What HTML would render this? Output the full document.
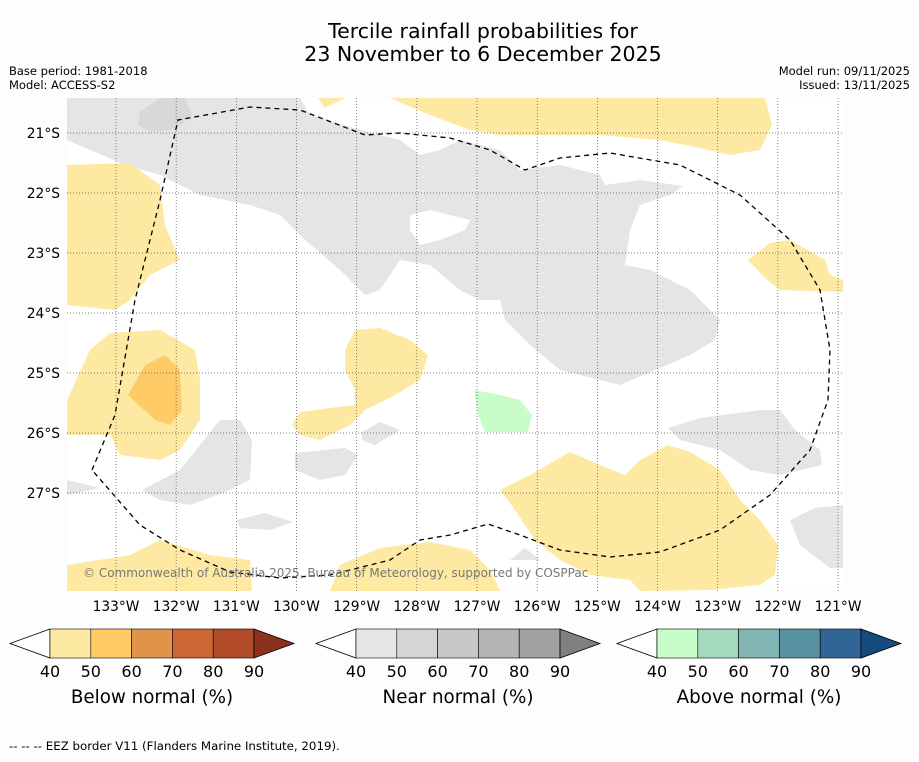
<!DOCTYPE html>
<html><head><meta charset="utf-8">
<style>
body{margin:0;background:#fff;font-family:"DejaVu Sans",sans-serif;}
svg text{font-family:"DejaVu Sans",sans-serif;}
</style></head>
<body>
<svg id="chart" width="919" height="758" viewBox="0 0 919 758" xmlns="http://www.w3.org/2000/svg">
<rect width="919" height="758" fill="#fdfdfd"/>
<text x="483" y="38" font-size="20.5" text-anchor="middle">Tercile rainfall probabilities for</text>
<text x="483" y="61" font-size="20.5" text-anchor="middle">23 November to 6 December 2025</text>
<text x="9" y="75" font-size="11.5">Base period: 1981-2018</text>
<text x="9" y="89" font-size="11.5">Model: ACCESS-S2</text>
<text x="910" y="75" font-size="11.5" text-anchor="end">Model run: 09/11/2025</text>
<text x="910" y="89" font-size="11.5" text-anchor="end">Issued: 13/11/2025</text>
<defs><clipPath id="mapclip"><rect x="67" y="98" width="776" height="493"/></clipPath></defs>
<g id="map" clip-path="url(#mapclip)">
<rect x="67" y="98" width="776" height="493" fill="#ffffff"/>
<g id="near" fill="#e5e5e5">
<polygon points="67,98 300,98 310,115 360,130 400,140 420,155 440,150 460,140 500,150 520,170 560,165 600,175 605,185 640,180 683,186 670,195 640,205 630,230 625,265 650,270 690,290 720,320 715,340 690,355 620,385 560,370 530,345 505,320 500,300 480,300 460,290 430,265 400,260 380,290 365,295 340,270 305,240 280,215 250,205 200,195 160,175 125,165 67,140"/>
<polygon points="668,428 700,418 760,410 780,410 795,430 820,450 822,465 780,475 750,470 720,450 680,440"/>
<polygon points="790,520 815,508 843,505 843,568 830,568 800,545"/>
<polygon points="142,490 180,470 200,445 220,420 240,420 252,440 250,480 225,492 190,505 160,500"/>
<polygon points="237,520 265,513 293,522 270,530 240,528"/>
<polygon points="295,453 345,448 358,455 345,475 320,480 295,470"/>
<polygon points="362,432 380,422 400,430 375,445 362,440"/>
<polygon points="67,480 100,488 67,495"/>
<polygon points="510,560 525,548 540,560"/>
<polygon points="568,355 585,352 575,360"/>
<polygon fill="#d8d8d8" points="140,112 160,98 185,98 192,115 175,130 150,132 138,125"/>
</g>
<polygon fill="#ffffff" points="410,215 430,210 470,220 465,230 440,240 420,245 410,230"/>
<g fill="#fee9a2">
<polygon points="390,98 765,98 772,125 760,150 730,155 700,148 660,140 600,135 500,135 470,130 430,115"/>
<polygon points="318,98 345,98 325,108"/>
<polygon points="67,165 130,163 160,185 165,225 180,260 150,275 130,300 115,310 67,305"/>
<polygon points="67,400 90,350 110,333 160,330 195,350 200,380 200,420 180,450 160,460 120,455 110,435 67,435"/>
<polygon points="345,350 355,330 380,328 410,340 428,355 420,380 395,395 365,410 350,425 320,440 300,435 292,425 300,412 330,408 355,405 355,390 345,370"/>
<polygon points="748,260 770,243 790,240 825,260 830,275 843,280 843,292 780,290 765,278"/>
<polygon points="500,490 530,475 570,452 600,465 625,475 640,460 668,445 690,452 720,470 740,500 760,520 778,545 775,575 760,585 710,590 640,591 630,580 590,575 560,560 535,540 515,510"/>
<polygon points="67,565 130,555 160,540 210,555 250,560 252,591 67,591"/>
<polygon points="340,565 380,548 430,542 470,550 490,570 500,591 330,591"/>
</g>
<polygon fill="#fecb67" points="128,395 145,365 165,355 180,370 182,410 170,425 155,420"/>
<polygon fill="#c8fcc8" points="474,390 500,395 520,400 532,415 528,432 485,432 478,415"/>
<g id="grid"></g>
<polyline fill="none" stroke="#000" stroke-width="1.3" stroke-dasharray="5,4" points="92,470 115,415 135,300 160,200 178,120 250,107 300,110 365,135 400,133 450,138 490,150 525,170 560,158 610,153 680,165 740,195 790,240 820,290 830,350 828,400 810,450 770,495 720,530 660,552 610,557 560,550 520,535 488,524 450,535 420,540 390,560 330,575 280,578 230,572 180,550 140,525 92,470"/>
<text x="83" y="577" font-size="12" fill="#777">© Commonwealth of Australia 2025, Bureau of Meteorology, supported by COSPPac</text>
</g>
<g id="axes"></g>
<g id="bars"></g>
<text x="9" y="750" font-size="11.8">--  --  -- EEZ border V11 (Flanders Marine Institute, 2019).</text>
</svg>
<script>
const lonTicks=[-133,-132,-131,-130,-129,-128,-127,-126,-125,-124,-123,-122,-121];
const latTicks=[-21,-22,-23,-24,-25,-26,-27];
const levelLabels=[40,50,60,70,80,90];
const belowColors=["#fee9a2","#fecb67","#e09448","#cc6633","#b04a28","#8c3020"];
const nearColors=["#e5e5e5","#d5d5d5","#c8c8c8","#b5b5b5","#a2a2a2","#808080"];
const aboveColors=["#c8fcc8","#a3d9bf","#80b5b4","#58919f","#316596","#174a7e"];
const NS="http://www.w3.org/2000/svg";
function xLon(l){return 116+(l+133)*60.17;}
function yLat(l){return 133+(-21-l)*60;}
function mk(tag,attrs,parent){const e=document.createElementNS(NS,tag);for(const k in attrs)e.setAttribute(k,attrs[k]);parent.appendChild(e);return e;}
const grid=document.getElementById('grid'),axes=document.getElementById('axes'),bars=document.getElementById('bars');
lonTicks.forEach(l=>{const x=xLon(l);
 const ln=mk('line',{x1:x,x2:x,y1:98,y2:591,stroke:'#555','stroke-width':0.7,'stroke-dasharray':'1,2'},grid);
 
 
 const t=mk('text',{x:x,y:611,'font-size':13.8,'text-anchor':'middle'},axes);t.textContent=Math.abs(l)+'°W';
 
 });
latTicks.forEach(l=>{const y=yLat(l);
 const ln=mk('line',{x1:67,x2:843,y1:y,y2:y,stroke:'#555','stroke-width':0.7,'stroke-dasharray':'1,2'},grid);
 
 
 const t=mk('text',{x:60,y:y+5,'font-size':13.8,'text-anchor':'end'},axes);t.textContent=Math.abs(l)+'°S';
 
 });
function colorbar(x0,colors,title,name){
 const w=40.8,y0=629,h=29,n=colors.length-1;
 const g=mk('g',{},bars);
 
 
 const lt=mk('polygon',{points:`${x0},${y0} ${x0-40},${y0+h/2} ${x0},${y0+h}`,fill:'#fff',stroke:'#000','stroke-width':0.8},g);
 
 
 for(let i=0;i<n;i++){const r=mk('rect',{x:x0+i*w,y:y0,width:w,height:h,fill:colors[i],stroke:'#000','stroke-width':0.6},g);
  
  }
 const xe=x0+n*w;
 const rt=mk('polygon',{points:`${xe},${y0} ${xe+40},${y0+h/2} ${xe},${y0+h}`,fill:colors[n],stroke:'#000','stroke-width':0.8},g);
 
 
 levelLabels.forEach((v,i)=>{const t=mk('text',{x:x0+i*w,y:677,'font-size':16,'text-anchor':'middle'},g);t.textContent=v;
  
  });
 const t=mk('text',{x:x0+n*w/2,y:703,'font-size':18.3,'text-anchor':'middle'},g);t.textContent=title;
 
 
}
colorbar(50,belowColors,'Below normal (%)','below-normal-colorbar');
colorbar(356,nearColors,'Near normal (%)','near-normal-colorbar');
colorbar(657,aboveColors,'Above normal (%)','above-normal-colorbar');
</script>
</body></html>
